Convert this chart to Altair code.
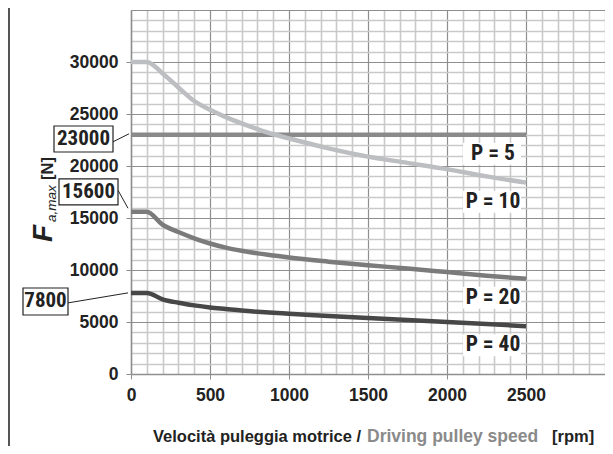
import altair as alt
import pandas as pd

# ---------------- data ----------------
rpm = [0, 100, 200, 300, 400, 500, 600, 700, 800, 900, 1000, 1250, 1500, 1750, 2000, 2250, 2500]
p10 = [30000, 30000, 28900, 27550, 26250, 25400, 24700, 24100, 23550, 23050, 22650, 21700, 20900, 20300, 19700, 19000, 18400]
p20 = [15600, 15600, 14350, 13650, 13050, 12550, 12150, 11850, 11600, 11400, 11200, 10800, 10450, 10150, 9800, 9450, 9150]
p40 = [7800, 7800, 7180, 6850, 6600, 6400, 6250, 6100, 5980, 5880, 5800, 5580, 5380, 5200, 5000, 4800, 4600]
p5_rpm = [0, 2500]
p5 = [23000, 23000]

series_names = ["P = 5", "P = 10", "P = 20", "P = 40"]
series_colors = ["#8a8a8a", "#bdbec1", "#7b7b7b", "#474747"]

marked_values = [23000, 15600, 7800]
marked_labels = ["23000", "15600", "7800"]

x_major = [0, 500, 1000, 1500, 2000, 2500]
y_major = [0, 5000, 10000, 15000, 20000, 25000, 30000]

# ---------------- styling ----------------
W, H = 474, 364
NUM_FONT = "Liberation Sans"
NARROW = "Roboto Condensed, Liberation Sans Narrow, Arial Narrow, Liberation Sans"
MAJOR = "#8e8e8e"
MINOR = "#c9c9c9"
DARK = "#222222"

rows = []
for n, xs, ys in [("P = 5", p5_rpm, p5), ("P = 10", rpm, p10), ("P = 20", rpm, p20), ("P = 40", rpm, p40)]:
    for i, (a, b) in enumerate(zip(xs, ys)):
        rows.append({"series": n, "rpm": a, "F": b, "i": i})
df = pd.DataFrame(rows)
ends = df.sort_values("rpm").groupby("series").tail(1).reset_index(drop=True)

xscale = alt.Scale(domain=[0, 3000], nice=False, zero=False)
yscale = alt.Scale(domain=[0, 35000], nice=False, zero=False)

x_lab_test = "datum.value % 500 === 0 && datum.value <= " + str(max(x_major))
y_lab_test = "datum.value % 5000 === 0 && datum.value <= " + str(max(y_major))

x_axis = alt.Axis(
    values=list(range(0, 3001, 100)),
    labelExpr="(" + x_lab_test + ") ? datum.label : ''",
    format="d", labelOverlap=False, labelFlush=False,
    grid=True,
    gridColor={"condition": {"test": "datum.value % 500 === 0", "value": MAJOR}, "value": MINOR},
    gridWidth={"condition": {"test": "datum.value % 500 === 0", "value": 1.2}, "value": 1.6},
    tickOpacity={"condition": {"test": x_lab_test, "value": 1}, "value": 0},
    tickColor=MAJOR, tickSize=5, domainColor=MAJOR, domainWidth=1.5,
    labelFont=NUM_FONT, labelFontSize=17.5, labelFontWeight="bold", labelColor=DARK,
    labelPadding=7, title=None,
)
y_axis = alt.Axis(
    values=list(range(0, 35001, 1000)),
    labelExpr="(" + y_lab_test + ") ? datum.label : ''",
    format="d", labelOverlap=False, labelFlush=False,
    grid=True,
    gridColor={"condition": {"test": "datum.value % 5000 === 0", "value": MAJOR}, "value": MINOR},
    gridWidth={"condition": {"test": "datum.value % 5000 === 0", "value": 1.2}, "value": 1.6},
    tickOpacity={"condition": {"test": y_lab_test, "value": 1}, "value": 0},
    tickColor=MAJOR, tickSize=5, domainColor=MAJOR, domainWidth=1.5,
    labelFont=NUM_FONT, labelFontSize=17.5, labelFontWeight="bold", labelColor=DARK,
    labelPadding=8, title=None,
)


def X(field):
    return alt.X(field, scale=xscale, axis=x_axis)


def Y(field):
    return alt.Y(field, scale=yscale, axis=y_axis)


lines = alt.Chart(df).mark_line(strokeWidth=4.5, interpolate="monotone", strokeCap="butt").encode(
    x=X("rpm:Q"),
    y=Y("F:Q"),
    color=alt.Color("series:N", scale=alt.Scale(domain=series_names, range=series_colors), legend=None),
    order="i:Q",
)

label_bg = alt.Chart(ends).mark_rect(color="white", xOffset=-63, x2Offset=-5, yOffset=8, y2Offset=30).encode(
    x=X("rpm:Q"), x2="rpm", y=Y("F:Q"), y2="F",
)
label_txt = alt.Chart(ends).mark_text(
    font=NARROW, fontSize=21.5, fontWeight="bold", color=DARK, dx=-33, dy=19, baseline="middle", align="center"
).encode(x=X("rpm:Q"), y=Y("F:Q"), text="series:N")

# boxed annotations at the left
box_style = [
    dict(l=-77, r=-18, t=-8.8, b=17.2, tx=-47.5, to=4.2, lx=-18, lo=7, ex=-2, eo=-1),
    dict(l=-72, r=-13, t=-32.8, b=-6.8, tx=-42.5, to=-19.8, lx=-13, lo=-21.5, ex=-3, eo=-3.5),
    dict(l=-108, r=-63, t=-4.9, b=22.1, tx=-85.5, to=8.6, lx=-63, lo=10, ex=-3, eo=0),
]
ann_layers = []
for v, lab, s in zip(marked_values, marked_labels, box_style):
    d = pd.DataFrame({"v": [v], "label": [lab], "x0": [0]})
    base = alt.Chart(d)
    ann_layers.append(base.mark_rule(color=DARK, strokeWidth=1, xOffset=s["ex"], yOffset=s["eo"], y2Offset=s["lo"]).encode(
        x=X("x0:Q"), x2=alt.value(s["lx"]), y=Y("v:Q"), y2="v"))
    ann_layers.append(base.mark_rect(fill="white", stroke=DARK, strokeWidth=1.2, yOffset=s["t"], y2Offset=s["b"]).encode(
        x=alt.value(s["l"]), x2=alt.value(s["r"]), y=Y("v:Q"), y2="v"))
    ann_layers.append(base.mark_text(font=NARROW, fontSize=21, fontWeight="bold", color=DARK, baseline="middle",
                                     align="center", yOffset=s["to"]).encode(
        x=alt.value(s["tx"]), y=Y("v:Q"), text="label:N"))

# left frame rule
frame = alt.Chart(pd.DataFrame({"k": [0]})).mark_rule(color="#555555", strokeWidth=2).encode(
    x=alt.value(-122), y=alt.value(-10), y2=alt.value(440))

# y-axis title pieces
t_df = pd.DataFrame({"k": [0]})
yt_F = alt.Chart(t_df).mark_text(text="F", font=NUM_FONT, fontSize=28, fontWeight="bold", fontStyle="italic",
                                 angle=270, align="left", baseline="alphabetic", color=DARK).encode(
    x=alt.value(-79), y=alt.value(232))
yt_sub = alt.Chart(t_df).mark_text(text="a,max", font=NUM_FONT, fontSize=13.5, fontStyle="italic",
                                   angle=270, align="left", baseline="alphabetic", color=DARK).encode(
    x=alt.value(-75.5), y=alt.value(212))
yt_N = alt.Chart(t_df).mark_text(text="[N]", font=NUM_FONT, fontSize=16.5, fontWeight="bold",
                                 angle=270, align="left", baseline="alphabetic", color=DARK).encode(
    x=alt.value(-78.5), y=alt.value(170))

# x-axis title pieces
xt1 = alt.Chart(t_df).mark_text(text="Velocità puleggia motrice /", font=NUM_FONT, fontSize=16.5, fontWeight="bold",
                                align="left", baseline="alphabetic", color=DARK).encode(
    x=alt.value(22), y=alt.value(432))
xt2 = alt.Chart(t_df).mark_text(text="Driving pulley speed", font=NUM_FONT, fontSize=17.5, fontWeight="bold",
                                align="left", baseline="alphabetic", color="#8a8a8a").encode(
    x=alt.value(236), y=alt.value(432))
xt3 = alt.Chart(t_df).mark_text(text="[rpm]", font=NUM_FONT, fontSize=16.5, fontWeight="bold",
                                align="left", baseline="alphabetic", color=DARK).encode(
    x=alt.value(421), y=alt.value(432))

chart = alt.layer(
    lines, label_bg, label_txt, *ann_layers, frame, yt_F, yt_sub, yt_N, xt1, xt2, xt3
).properties(
    width=W, height=H,
    autosize=alt.AutoSizeParams(type="none"),
    padding={"left": 123, "top": 2, "right": 0, "bottom": 72},
    background="white",
).configure_view(stroke=None)

chart.save("out.html", embed_options={"renderer": "svg", "actions": False})
